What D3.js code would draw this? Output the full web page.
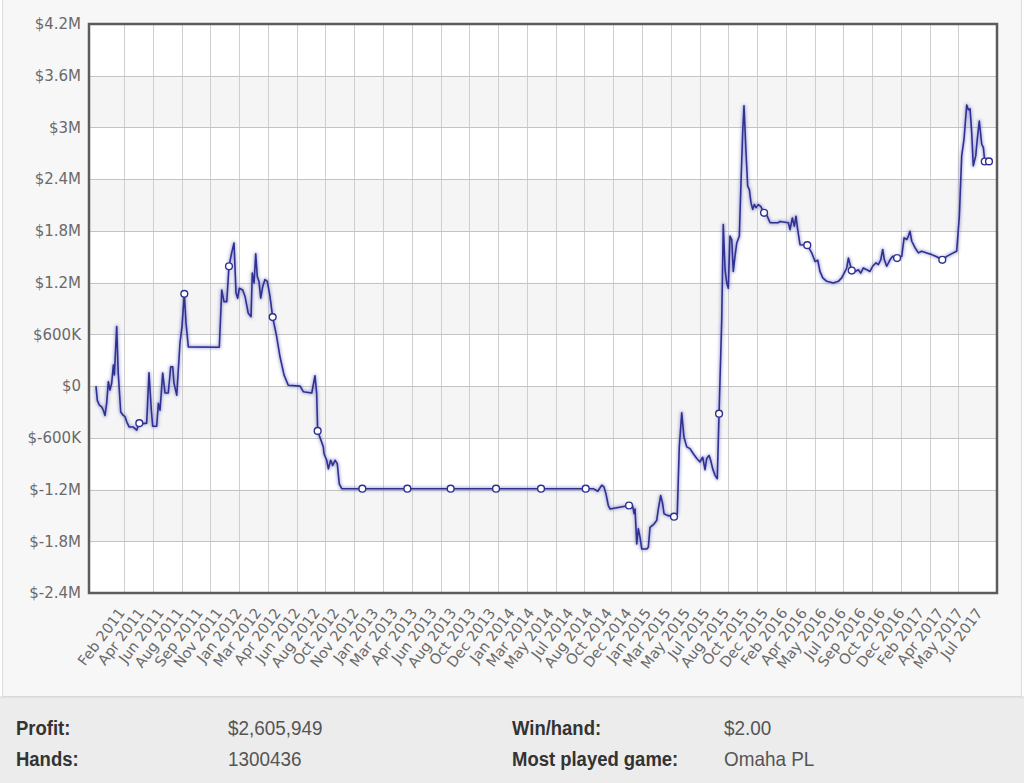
<!DOCTYPE html>
<html>
<head>
<meta charset="utf-8">
<script src="https://cdnjs.cloudflare.com/ajax/libs/d3/7.8.5/d3.min.js"></script>
<style>
html, body { margin: 0; padding: 0; background: #fff; }
svg { display: block; }
</style>
</head>
<body>
<script>
// x = months counted from Jan 2011, y = cumulative profit in $K
var profit = [
	[-1.43, 0], [-1.31, -165], [-1.13, -220], [-0.92, -240], [-0.77, -280], [-0.62, -340], [-0.47, -200],
	[-0.32, 50], [-0.17, -45], [-0.02, 35], [0.13, 245], [0.22, 130], [0.43, 690], [0.57, 150],
	[0.79, -300], [1.02, -340], [1.18, -355], [1.33, -415], [1.56, -475], [1.92, -475], [2.23, -510],
	[2.46, -430], [2.82, -435], [3.12, -430], [3.33, 155], [3.54, -280], [3.66, -465], [4.02, -465],
	[4.17, -200], [4.32, -280], [4.56, 150], [4.77, -80], [5.06, -80], [5.28, 225], [5.46, 225],
	[5.57, 35], [5.82, -105], [6.11, 500], [6.29, 690], [6.50, 1070], [6.65, 735], [6.86, 455],
	[9.64, 450], [9.86, 1115], [10.06, 980], [10.31, 980], [10.51, 1390], [10.75, 1545], [10.96, 1660],
	[11.14, 1080], [11.29, 1020], [11.44, 1135], [11.74, 1115], [11.95, 1040], [12.24, 845], [12.49, 805],
	[12.60, 1310], [12.76, 1195], [12.91, 1535], [13.05, 1270], [13.20, 1215], [13.36, 1020], [13.54, 1155],
	[13.74, 1235], [13.95, 1215], [14.19, 1040], [14.43, 800], [14.79, 575], [15.09, 340], [15.45, 130],
	[15.83, 10], [16.89, 0], [17.18, -65], [17.94, -80], [18.23, 120], [18.38, -85], [18.47, -520],
	[18.98, -705], [19.04, -785], [19.28, -860], [19.43, -960], [19.64, -860], [19.82, -920], [20.03, -860],
	[20.23, -900], [20.41, -1135], [20.63, -1190], [22.48, -1190], [26.52, -1190], [30.41, -1190],
	[34.48, -1190], [38.52, -1190], [42.53, -1190], [43.21, -1190], [43.61, -1220], [43.97, -1150],
	[44.17, -1170], [44.35, -1250], [44.56, -1385], [44.71, -1425], [46.42, -1385], [46.75, -1395],
	[46.87, -1480], [46.96, -1425], [47.11, -1830], [47.25, -1655], [47.41, -1755], [47.56, -1890],
	[48.01, -1890], [48.15, -1870], [48.30, -1640], [48.66, -1600], [48.90, -1560], [49.05, -1425],
	[49.26, -1270], [49.44, -1365], [49.56, -1480], [49.86, -1500], [50.46, -1515], [50.75, -1480],
	[50.93, -705], [51.15, -310], [51.35, -590], [51.60, -705], [51.89, -725], [52.19, -785], [52.50, -840],
	[52.79, -880], [53.03, -825], [53.24, -970], [53.39, -840], [53.60, -805], [53.75, -860], [53.93, -960],
	[54.14, -1035], [54.34, -1075], [54.50, -320], [54.74, 770], [54.88, 1875], [55.04, 1350], [55.19, 1195],
	[55.33, 1135], [55.48, 1740], [55.64, 1700], [55.78, 1330], [55.93, 1505], [56.09, 1660], [56.32, 1740],
	[56.45, 2280], [56.62, 2940], [56.74, 3250], [56.92, 2710], [57.07, 2320], [57.22, 2280], [57.37, 2125],
	[57.52, 2050], [57.67, 2105], [57.82, 2070], [58.02, 2105], [58.24, 2085], [58.54, 2010], [58.83, 1970],
	[59.08, 1895], [59.82, 1895], [59.97, 1910], [60.72, 1895], [60.87, 1815], [61.08, 1950], [61.26, 1855],
	[61.41, 1970], [61.56, 1815], [61.77, 1640], [62.42, 1635], [62.82, 1545], [63.12, 1445], [63.36, 1460],
	[63.56, 1330], [63.81, 1255], [64.17, 1215], [64.76, 1195], [65.21, 1215], [65.51, 1255], [65.81, 1330],
	[65.96, 1370], [66.11, 1485], [66.41, 1340], [66.71, 1330], [67.00, 1350], [67.22, 1310], [67.45, 1370],
	[67.76, 1350], [68.05, 1330], [68.29, 1390], [68.59, 1430], [68.80, 1410], [69.01, 1465], [69.19, 1585],
	[69.34, 1465], [69.55, 1390], [69.85, 1465], [70.09, 1505], [70.48, 1485], [70.90, 1505], [71.11, 1720],
	[71.35, 1700], [71.49, 1740], [71.64, 1795], [71.80, 1680], [72.09, 1605], [72.39, 1545], [72.69, 1565],
	[73.14, 1545], [73.59, 1525], [74.04, 1500], [74.54, 1465], [74.94, 1505], [75.23, 1525], [75.53, 1545],
	[75.83, 1565], [76.07, 1970], [76.28, 2670], [76.49, 2865], [76.73, 3260], [76.88, 3205], [77.03, 3215],
	[77.18, 2940], [77.32, 2555], [77.54, 2670], [77.68, 2865], [77.86, 3075], [78.08, 2805], [78.23, 2765],
	[78.35, 2605], [78.73, 2606]
];

// points drawn with a hollow marker
var markerMonths = [2.46, 6.50, 10.51, 14.43, 18.47, 22.48, 26.52, 30.41, 34.48, 38.52, 42.53,
	46.42, 50.46, 54.50, 58.54, 62.42, 66.41, 70.48, 74.54, 78.35, 78.73];

var yTicks = [-2400, -1800, -1200, -600, 0, 600, 1200, 1800, 2400, 3000, 3600, 4200];

var xLabels = ["Feb 2011", "Apr 2011", "Jun 2011", "Aug 2011", "Sep 2011", "Nov 2011",
	"Jan 2012", "Mar 2012", "Apr 2012", "Jun 2012", "Aug 2012", "Oct 2012", "Nov 2012",
	"Jan 2013", "Mar 2013", "Apr 2013", "Jun 2013", "Aug 2013", "Oct 2013", "Dec 2013",
	"Jan 2014", "Mar 2014", "May 2014", "Jul 2014", "Aug 2014", "Oct 2014", "Dec 2014",
	"Jan 2015", "Mar 2015", "May 2015", "Jul 2015", "Aug 2015", "Oct 2015", "Dec 2015",
	"Feb 2016", "Apr 2016", "May 2016", "Jul 2016", "Sep 2016", "Oct 2016", "Dec 2016",
	"Feb 2017", "Apr 2017", "May 2017", "Jul 2017"];

var statLabels = ["Profit:", "Hands:", "Win/hand:", "Most played game:"];
var statValues = ["$2,605,949", "1300436", "$2.00", "Omaha PL"];

var W = 1024, H = 783;
var plot = { left: 89, top: 24, right: 997, bottom: 593 };
var lineColor = "#2e3192";

var svg = d3.select("body").append("svg").attr("width", W).attr("height", H);

var defs = svg.append("defs");
defs.append("filter").attr("id", "halo").attr("x", "-5%").attr("y", "-5%")
	.attr("width", "110%").attr("height", "110%")
	.append("feGaussianBlur").attr("stdDeviation", 1.6);

// panels
svg.append("rect").attr("x", 2.5).attr("y", -2).attr("width", W - 5).attr("height", 698.5)
	.attr("fill", "#f7f7f7").attr("stroke", "#dcdcdc");
svg.append("rect").attr("x", 0).attr("y", 697).attr("width", W).attr("height", H - 697)
	.attr("fill", "#ececec");
svg.append("line").attr("x1", 0).attr("x2", W).attr("y1", 697).attr("y2", 697)
	.attr("stroke", "#d6d6d6");

var x = d3.scaleLinear().domain([-2.056, 79.45]).range([plot.left, plot.right]);
var y = d3.scaleLinear().domain([-2400, 4200]).range([plot.bottom, plot.top]);

// alternating bands
var bands = d3.pairs(yTicks);
svg.append("g").selectAll("rect").data(bands).join("rect")
	.attr("x", plot.left).attr("width", plot.right - plot.left)
	.attr("y", function(d) { return y(d[1]); })
	.attr("height", function(d) { return y(d[0]) - y(d[1]); })
	.attr("fill", function(d, i) { return i % 2 == 0 ? "#ffffff" : "#f5f5f5"; });

// vertical grid (its own spacing, not the label spacing)
var gridMonths = d3.range(30).map(function(i) { return 1.086 + i * 2.583; });
svg.append("g").selectAll("line").data(gridMonths).join("line")
	.attr("x1", function(d) { return Math.round(x(d)) + 0.5; })
	.attr("x2", function(d) { return Math.round(x(d)) + 0.5; })
	.attr("y1", plot.top).attr("y2", plot.bottom)
	.attr("stroke", "#cfcfcf");

svg.append("g").selectAll("line").data(yTicks).join("line")
	.attr("x1", plot.left).attr("x2", plot.right)
	.attr("y1", function(d) { return Math.round(y(d)) + 0.5; })
	.attr("y2", function(d) { return Math.round(y(d)) + 0.5; })
	.attr("stroke", "#c4c4c4");

function fmtMoney(v) {
	if (v == 0) return "$0";
	if (Math.abs(v) >= 1000) return "$" + (v / 1000) + "M";
	return "$" + v + "K";
}

var yAxis = svg.append("g").attr("transform", "translate(" + plot.left + ",0)")
	.call(d3.axisLeft(y).tickValues(yTicks).tickFormat(fmtMoney).tickSize(0).tickPadding(8));
yAxis.select(".domain").remove();
yAxis.selectAll("text").attr("font-family", "DejaVu Sans, Verdana, sans-serif")
	.attr("font-size", 15).attr("fill", "#6a6a6a");

var tickMonths = xLabels.map(function(d, i) { return 1 + i * 1.75; });
var xAxis = svg.append("g").attr("transform", "translate(0," + plot.bottom + ")")
	.call(d3.axisBottom(x).tickValues(tickMonths)
		.tickFormat(function(d, i) { return xLabels[i]; }).tickSize(0));
xAxis.select(".domain").remove();
xAxis.selectAll("text")
	.attr("font-family", "DejaVu Sans, Verdana, sans-serif")
	.attr("font-size", 14.5).attr("fill", "#6a6a6a")
	.attr("text-anchor", "end").attr("dy", 0).attr("y", 0)
	.attr("transform", "translate(2,20) rotate(-53)");

// line with a soft halo
var line = d3.line().x(function(d) { return x(d[0]); }).y(function(d) { return y(d[1]); });
svg.append("path").datum(profit).attr("d", line)
	.attr("fill", "none").attr("stroke", "#5a5cb8").attr("stroke-opacity", 0.45)
	.attr("stroke-width", 3.5).attr("stroke-linejoin", "round")
	.attr("filter", "url(#halo)");
svg.append("path").datum(profit).attr("d", line)
	.attr("fill", "none").attr("stroke", lineColor).attr("stroke-width", 1.6)
	.attr("stroke-linejoin", "round");

var markers = markerMonths.map(function(m) {
	return profit.find(function(d) { return d[0] == m; });
});
svg.append("g").selectAll("circle").data(markers).join("circle")
	.attr("cx", function(d) { return x(d[0]); })
	.attr("cy", function(d) { return y(d[1]); })
	.attr("r", 3.4)
	.attr("fill", "#fff").attr("stroke", lineColor).attr("stroke-width", 1.4);

// frame
svg.append("rect").attr("x", plot.left).attr("y", plot.top)
	.attr("width", plot.right - plot.left).attr("height", plot.bottom - plot.top)
	.attr("fill", "none").attr("stroke", "#5c5c5c").attr("stroke-width", 2.5);

// stats below the chart, a little condensed like the original
var statPos = [[16, 735], [16, 766], [512, 735], [512, 766]];
var stats = svg.append("g").attr("font-family", "Liberation Sans, Arial, sans-serif")
	.attr("font-size", 21);
stats.selectAll("text.lab").data(statLabels).join("text").attr("class", "lab")
	.attr("transform", function(d, i) { return "translate(" + statPos[i][0] + "," + statPos[i][1] + ") scale(0.88,1)"; })
	.attr("font-weight", "bold").attr("fill", "#333")
	.text(function(d) { return d; });
stats.selectAll("text.val").data(statValues).join("text").attr("class", "val")
	.attr("transform", function(d, i) { return "translate(" + (statPos[i][0] + 212) + "," + statPos[i][1] + ") scale(0.9,1)"; })
	.attr("fill", "#555")
	.text(function(d) { return d; });
</script>
</body>
</html>
